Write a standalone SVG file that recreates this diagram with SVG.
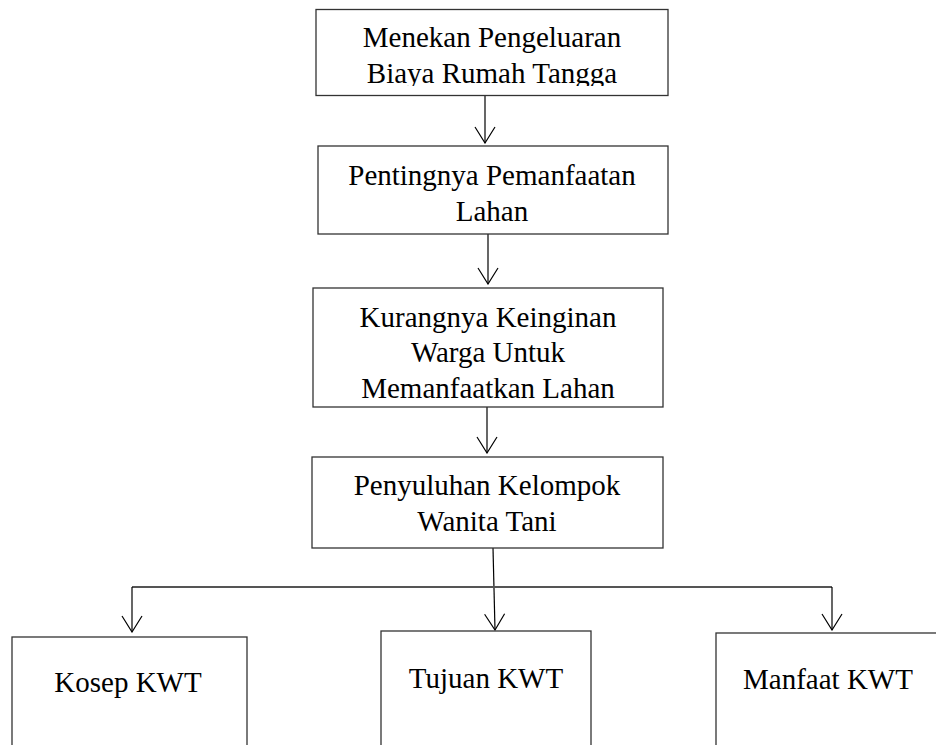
<svg xmlns="http://www.w3.org/2000/svg" width="936" height="745" viewBox="0 0 936 745">
<style>
.box{fill:#fff;stroke:#333;stroke-width:1.3}
.t{font-family:"Liberation Serif","Times New Roman",serif;font-size:29px;fill:#000;text-anchor:middle}
.c{stroke:#000;stroke-width:1.2;fill:none}
.bar{stroke:#555;stroke-width:2.2;fill:none}
</style>
<defs>
<marker id="arr" viewBox="-1 -11 18 22" refX="16" refY="0" markerWidth="18" markerHeight="22" markerUnits="userSpaceOnUse" orient="auto">
<path d="M0,-10 L16,0 L0,10" fill="none" stroke="#000" stroke-width="1.2"/>
</marker>
<clipPath id="clip1"><rect x="317" y="10" width="350" height="76"/></clipPath>
</defs>
<rect width="936" height="745" fill="#fff"/>
<g id="connectors">
<line class="c" x1="485" y1="96" x2="485" y2="143" marker-end="url(#arr)"/>
<line class="c" x1="488" y1="234" x2="488" y2="284" marker-end="url(#arr)"/>
<line class="c" x1="487" y1="407" x2="487" y2="453" marker-end="url(#arr)"/>
<line class="c" x1="493" y1="548" x2="495" y2="630" marker-end="url(#arr)"/>
<line class="bar" x1="132" y1="587" x2="832" y2="587"/>
<line class="c" x1="132" y1="587" x2="132" y2="632" marker-end="url(#arr)"/>
<line class="c" x1="832" y1="587" x2="832" y2="630" marker-end="url(#arr)"/>
</g>
<g id="n1">
<rect class="box" x="316" y="9.5" width="352" height="86"/>
<g clip-path="url(#clip1)">
<text class="t" x="492" y="47">Menekan Pengeluaran</text>
<text class="t" x="492" y="83">Biaya Rumah Tangga</text>
</g>
</g>
<g id="n2">
<rect class="box" x="318" y="146" width="350" height="88"/>
<text class="t" x="492" y="185">Pentingnya Pemanfaatan</text>
<text class="t" x="492" y="221">Lahan</text>
</g>
<g id="n3">
<rect class="box" x="313" y="288" width="350" height="119"/>
<text class="t" x="488" y="327">Kurangnya Keinginan</text>
<text class="t" x="488" y="362">Warga Untuk</text>
<text class="t" x="488" y="398">Memanfaatkan Lahan</text>
</g>
<g id="n4">
<rect class="box" x="312" y="457" width="351" height="91"/>
<text class="t" x="487" y="495">Penyuluhan Kelompok</text>
<text class="t" x="487" y="531">Wanita Tani</text>
</g>
<g id="n5">
<rect class="box" x="12" y="637" width="235" height="120"/>
<text class="t" x="128" y="692">Kosep KWT</text>
</g>
<g id="n6">
<rect class="box" x="381" y="631" width="210" height="126"/>
<text class="t" x="486" y="688">Tujuan KWT</text>
</g>
<g id="n7">
<rect class="box" x="716" y="633" width="240" height="124"/>
<text class="t" x="828" y="689">Manfaat KWT</text>
</g>
</svg>
